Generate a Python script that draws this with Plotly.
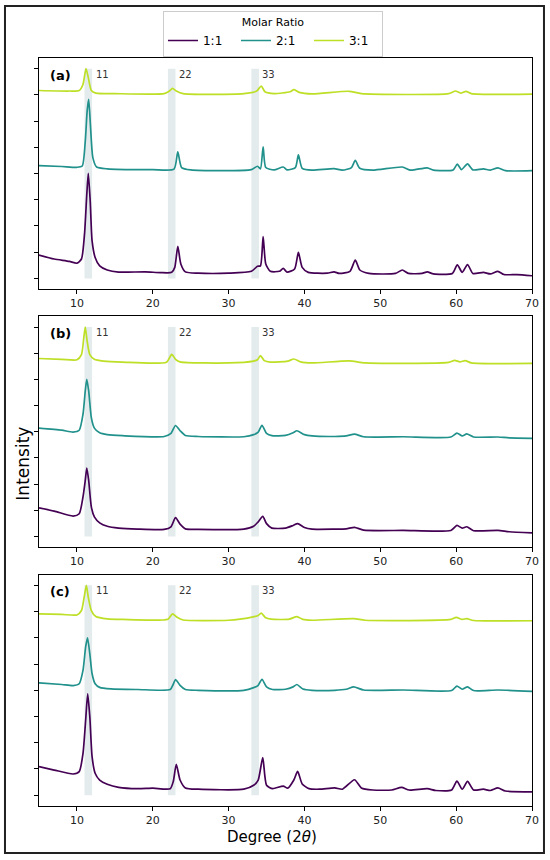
import plotly.graph_objects as go
from plotly.subplots import make_subplots

# ========== 数据（从图上读取，单位为任意强度） ==========
ratios = ["1:1", "2:1", "3:1"]
colors = ["#440154", "#21918c", "#bddf26"]

# (a)
a_x_11 = [5, 7, 9, 10, 10.6, 11.0, 11.3, 11.5, 11.75, 12.0, 12.4, 13, 14, 15.5, 19, 21, 22.5, 22.9, 23.3, 23.7, 24.3,
          26, 30, 33, 33.8, 34.2, 34.55, 34.9, 35.5, 36.7, 37.2, 37.7, 38.7, 39.2, 39.7, 40.5, 43, 43.9, 44.6, 46,
          46.7, 47.3, 48.5, 52, 52.9, 53.7, 55.5, 56.2, 57, 59.5, 60.15, 60.8, 61.5, 62.2, 63.6, 64.5, 65.5, 66.3,
          68, 70]
a_y_11 = [0.89, 0.74, 0.65, 0.58, 0.74, 1.69, 3.2, 4.01, 2.96, 1.43, 0.80, 0.48, 0.32, 0.24, 0.25, 0.22, 0.23, 0.42,
          1.22, 0.55, 0.25, 0.20, 0.20, 0.27, 0.46, 0.48, 1.59, 0.55, 0.27, 0.27, 0.38, 0.24, 0.36, 0.99, 0.42, 0.23,
          0.20, 0.25, 0.19, 0.27, 0.70, 0.32, 0.19, 0.19, 0.32, 0.19, 0.19, 0.25, 0.17, 0.19, 0.52, 0.23, 0.53, 0.19,
          0.23, 0.17, 0.27, 0.15, 0.14, 0.10]
a_x_21 = [5, 8, 10, 10.7, 11.1, 11.35, 11.55, 11.8, 12.1, 12.6, 14, 20, 22.8, 23.3, 23.8, 25, 33, 33.8, 34.2, 34.55,
          34.9, 36, 37.2, 37.7, 38.8, 39.2, 39.7, 41, 43.9, 45, 46.2, 46.7, 47.3, 49, 52.9, 54, 56.2, 57, 59.6, 60.15,
          60.7, 61.5, 62.2, 63.6, 64.5, 65.5, 66.5, 70]
a_y_21 = [4.30, 4.27, 4.24, 4.29, 5.24, 6.39, 6.83, 5.75, 4.61, 4.25, 4.18, 4.15, 4.17, 4.83, 4.23, 4.14, 4.15, 4.28,
          4.18, 5.02, 4.23, 4.14, 4.25, 4.14, 4.23, 4.71, 4.20, 4.13, 4.19, 4.13, 4.23, 4.50, 4.20, 4.13, 4.25, 4.13,
          4.22, 4.13, 4.14, 4.36, 4.15, 4.37, 4.14, 4.18, 4.13, 4.22, 4.11, 4.11]
a_x_31 = [5, 9, 10.3, 10.8, 11.2, 11.5, 11.9, 12.5, 15, 21.5, 22.2, 22.6, 23.1, 24, 32, 33.7, 34.3, 34.8, 36, 38.1,
          38.6, 39.3, 41, 45.9, 47.5, 59, 59.9, 60.6, 61.3, 62, 70]
a_y_31 = [7.17, 7.15, 7.17, 7.40, 8.01, 7.66, 7.17, 7.07, 7.05, 7.05, 7.15, 7.25, 7.15, 7.05, 7.05, 7.15, 7.34, 7.12,
          7.05, 7.12, 7.20, 7.10, 7.04, 7.14, 7.05, 7.05, 7.15, 7.07, 7.14, 7.05, 7.03]

# (b)
b_x_11 = [5, 7, 9.5, 10.3, 10.8, 11.1, 11.3, 11.55, 11.9, 12.3, 13, 14, 15.5, 18, 21.5, 22.4, 23.0, 23.6, 24.3, 26, 32,
          33.3, 33.9, 34.5, 35.0, 35.7, 37.5, 38.5, 39.1, 40, 41, 44, 45.5, 46.6, 47.8, 53, 59.3, 60.1, 60.8, 61.4,
          62.3, 65.5, 67, 70]
b_y_11 = [1.09, 0.97, 0.78, 0.87, 1.51, 2.14, 2.61, 2.14, 1.13, 0.75, 0.52, 0.39, 0.32, 0.28, 0.27, 0.37, 0.72, 0.47,
          0.29, 0.27, 0.28, 0.39, 0.56, 0.77, 0.49, 0.32, 0.32, 0.42, 0.49, 0.34, 0.28, 0.28, 0.29, 0.35, 0.24, 0.23,
          0.23, 0.42, 0.32, 0.37, 0.22, 0.23, 0.18, 0.14]
b_x_21 = [5, 8, 9.5, 10.3, 10.8, 11.1, 11.3, 11.55, 11.9, 12.3, 13, 14, 16, 21.5, 22.4, 23.0, 23.6, 24.3, 26, 32, 33.3,
          33.9, 34.4, 35.0, 35.7, 37.5, 38.5, 39.0, 40, 41, 44, 45.5, 46.6, 47.8, 53, 59.3, 60.1, 60.8, 61.4, 62.3,
          65.5, 67, 70]
b_y_21 = [4.14, 4.06, 3.99, 4.06, 4.67, 5.56, 6.00, 5.56, 4.54, 4.14, 3.96, 3.89, 3.85, 3.82, 3.94, 4.24, 4.04, 3.86,
          3.82, 3.81, 3.89, 3.99, 4.25, 3.94, 3.85, 3.86, 3.96, 4.04, 3.89, 3.84, 3.82, 3.84, 3.91, 3.81, 3.81, 3.80,
          3.95, 3.84, 3.92, 3.80, 3.80, 3.77, 3.75]
b_x_31 = [5, 8, 10, 10.6, 10.9, 11.1, 11.35, 11.7, 12.3, 13.5, 16, 21.8, 22.5, 23.0, 23.6, 30, 33.3, 33.8, 34.2, 34.7,
          35.5, 37.8, 38.6, 39.5, 41, 45.9, 48, 59, 59.8, 60.5, 61.2, 62, 70]
b_y_31 = [6.80, 6.77, 6.75, 6.95, 7.58, 8.00, 7.46, 6.95, 6.77, 6.70, 6.66, 6.66, 6.96, 6.77, 6.67, 6.63, 6.70, 6.75,
          6.91, 6.72, 6.66, 6.70, 6.78, 6.67, 6.63, 6.71, 6.63, 6.65, 6.73, 6.67, 6.72, 6.63, 6.61]

# (c)
c_x_11 = [5, 7, 9.5, 10.3, 10.8, 11.15, 11.42, 11.7, 12.0, 12.4, 13, 14, 15.5, 18, 20, 22.3, 22.7, 23.1, 23.6, 24.3, 26,
          32, 33.3, 33.9, 34.5, 35.0, 35.8, 37.2, 37.8, 38.6, 39.1, 39.7, 40.6, 42, 44, 45, 46.6, 47.5, 49, 51.5, 52.8,
          53.8, 56.2, 57.3, 59.4, 60.1, 60.8, 61.5, 62.3, 63.6, 64.5, 65.5, 66.5, 70]
c_y_11 = [1.09, 0.96, 0.81, 0.90, 1.59, 2.86, 3.86, 2.99, 1.47, 0.84, 0.58, 0.42, 0.30, 0.25, 0.27, 0.25, 0.52, 1.18,
          0.58, 0.28, 0.23, 0.23, 0.38, 0.58, 1.43, 0.38, 0.25, 0.35, 0.27, 0.58, 0.91, 0.43, 0.25, 0.23, 0.28, 0.23,
          0.59, 0.28, 0.20, 0.20, 0.30, 0.20, 0.25, 0.18, 0.20, 0.54, 0.23, 0.53, 0.20, 0.23, 0.18, 0.28, 0.16, 0.13]
c_x_21 = [5, 8, 9.5, 10.3, 10.8, 11.15, 11.4, 11.7, 12.0, 12.4, 13, 14.5, 18, 22.3, 22.7, 23.0, 23.6, 24.3, 26, 32,
          33.3, 33.9, 34.4, 35.0, 35.8, 37.5, 38.5, 39.0, 39.8, 41, 44, 45.5, 46.5, 47.8, 53, 59.4, 60.1, 60.8, 61.5,
          62.3, 65.5, 70]
c_y_21 = [4.28, 4.22, 4.18, 4.25, 4.76, 5.65, 6.00, 5.39, 4.63, 4.25, 4.11, 4.05, 4.03, 4.03, 4.23, 4.41, 4.19, 4.03,
          4.00, 4.00, 4.10, 4.19, 4.42, 4.13, 4.03, 4.04, 4.13, 4.22, 4.05, 4.00, 4.00, 4.04, 4.13, 4.01, 4.01, 3.99,
          4.16, 4.04, 4.13, 3.99, 4.01, 3.96]
c_x_31 = [5, 8, 10, 10.6, 10.95, 11.24, 11.5, 11.9, 12.5, 14, 16, 22, 22.6, 23.2, 24, 30, 31.5, 33.4, 33.9, 34.3, 34.9,
          35.6, 38, 39.0, 39.8, 41, 46.5, 48, 59.3, 60.0, 60.8, 61.4, 62.3, 70]
c_y_31 = [6.91, 6.89, 6.87, 7.04, 7.54, 8.00, 7.54, 7.04, 6.81, 6.72, 6.70, 6.71, 6.91, 6.78, 6.68, 6.67, 6.71, 6.81,
          6.85, 6.94, 6.76, 6.71, 6.71, 6.81, 6.70, 6.67, 6.73, 6.67, 6.70, 6.78, 6.70, 6.73, 6.66, 6.65]

panel_labels = ["(a)", "(b)", "(c)"]
band_ranges = [(11, 12), (22, 23), (33, 34)]
band_labels = ["11", "22", "33"]

panels = [
    [(a_x_11, a_y_11), (a_x_21, a_y_21), (a_x_31, a_y_31)],
    [(b_x_11, b_y_11), (b_x_21, b_y_21), (b_x_31, b_y_31)],
    [(c_x_11, c_y_11), (c_x_21, c_y_21), (c_x_31, c_y_31)],
]

# ========== 绘图 ==========
fig = make_subplots(rows=3, cols=1, vertical_spacing=0.04)

for r, series in enumerate(panels, start=1):
    for i, (xs, ys) in enumerate(series):
        fig.add_trace(go.Scatter(
            x=xs, y=ys, mode="lines", name=ratios[i],
            line=dict(color=colors[i], width=1.7, shape="spline", smoothing=0.6),
            showlegend=(r == 1), legendgroup=ratios[i],
        ), row=r, col=1)

    # 阴影带 + 标注
    for (x0, x1), lab in zip(band_ranges, band_labels):
        fig.add_shape(type="rect", x0=x0, x1=x1, y0=0, y1=8, fillcolor="#e3ebed",
                      line=dict(width=0), layer="below", row=r, col=1)
        fig.add_annotation(x=x1 + 0.2, y=7.79, text=lab, showarrow=False, xanchor="left",
                           font=dict(size=10, color="#333"), row=r, col=1)
    fig.add_annotation(x=6.2, y=7.76, text=f"<b>{panel_labels[r - 1]}</b>", showarrow=False,
                       xanchor="left", font=dict(size=13, color="black"), row=r, col=1)

# 子图位置
fig.update_layout(
    yaxis=dict(domain=[0.691, 1.0]),
    yaxis2=dict(domain=[0.346, 0.6546]),
    yaxis3=dict(domain=[0.0, 0.3094]),
)

fig.update_xaxes(range=[5, 70], tickvals=[10, 20, 30, 40, 50, 60, 70], ticks="outside", ticklen=4,
                 tickwidth=1.2, tickcolor="black", showline=True, linecolor="black", linewidth=1,
                 mirror=True, showgrid=False, zeroline=False, tickfont=dict(size=11, color="#222"))
fig.update_yaxes(range=[-0.41, 8.41], tickvals=list(range(9)), ticks="outside", ticklen=4,
                 tickwidth=1.2, tickcolor="black", showticklabels=False, showline=True,
                 linecolor="black", linewidth=1, mirror=True, showgrid=False, zeroline=False)

# 轴标题
fig.add_annotation(x=-0.032, y=0.458, xref="paper", yref="paper", text="Intensity", textangle=-90,
                   xanchor="center", yanchor="middle", showarrow=False, font=dict(size=17, color="black"))
fig.add_annotation(x=0.4736, y=-0.041, xref="paper", yref="paper", text="Degree (2<i>θ</i>)",
                   xanchor="center", yanchor="middle", showarrow=False, font=dict(size=15, color="black"))

# 外框
fig.add_shape(type="rect", xref="paper", yref="paper", x0=-0.069, x1=1.0243, y0=-0.0628, y1=1.0694,
              line=dict(color="#222", width=2), fillcolor="rgba(0,0,0,0)")

fig.update_layout(
    width=550, height=860,
    margin=dict(l=39, r=18, t=57, b=54),
    paper_bgcolor="white", plot_bgcolor="white",
    font=dict(family="DejaVu Sans", color="black"),
    legend=dict(
        orientation="h", x=0.4746, xanchor="center", y=1.0618, yanchor="top",
        title=dict(text="Molar Ratio", side="top center", font=dict(size=11)),
        font=dict(size=12), bordercolor="#cccccc", borderwidth=1, bgcolor="white",
        itemwidth=30, entrywidth=28, entrywidthmode="pixels",
    ),
)

# 去掉页面默认 8px 边距，隐藏工具栏
fig.write_html("out.html", config={"displayModeBar": False},
               post_script="document.body.style.margin='0px';")
